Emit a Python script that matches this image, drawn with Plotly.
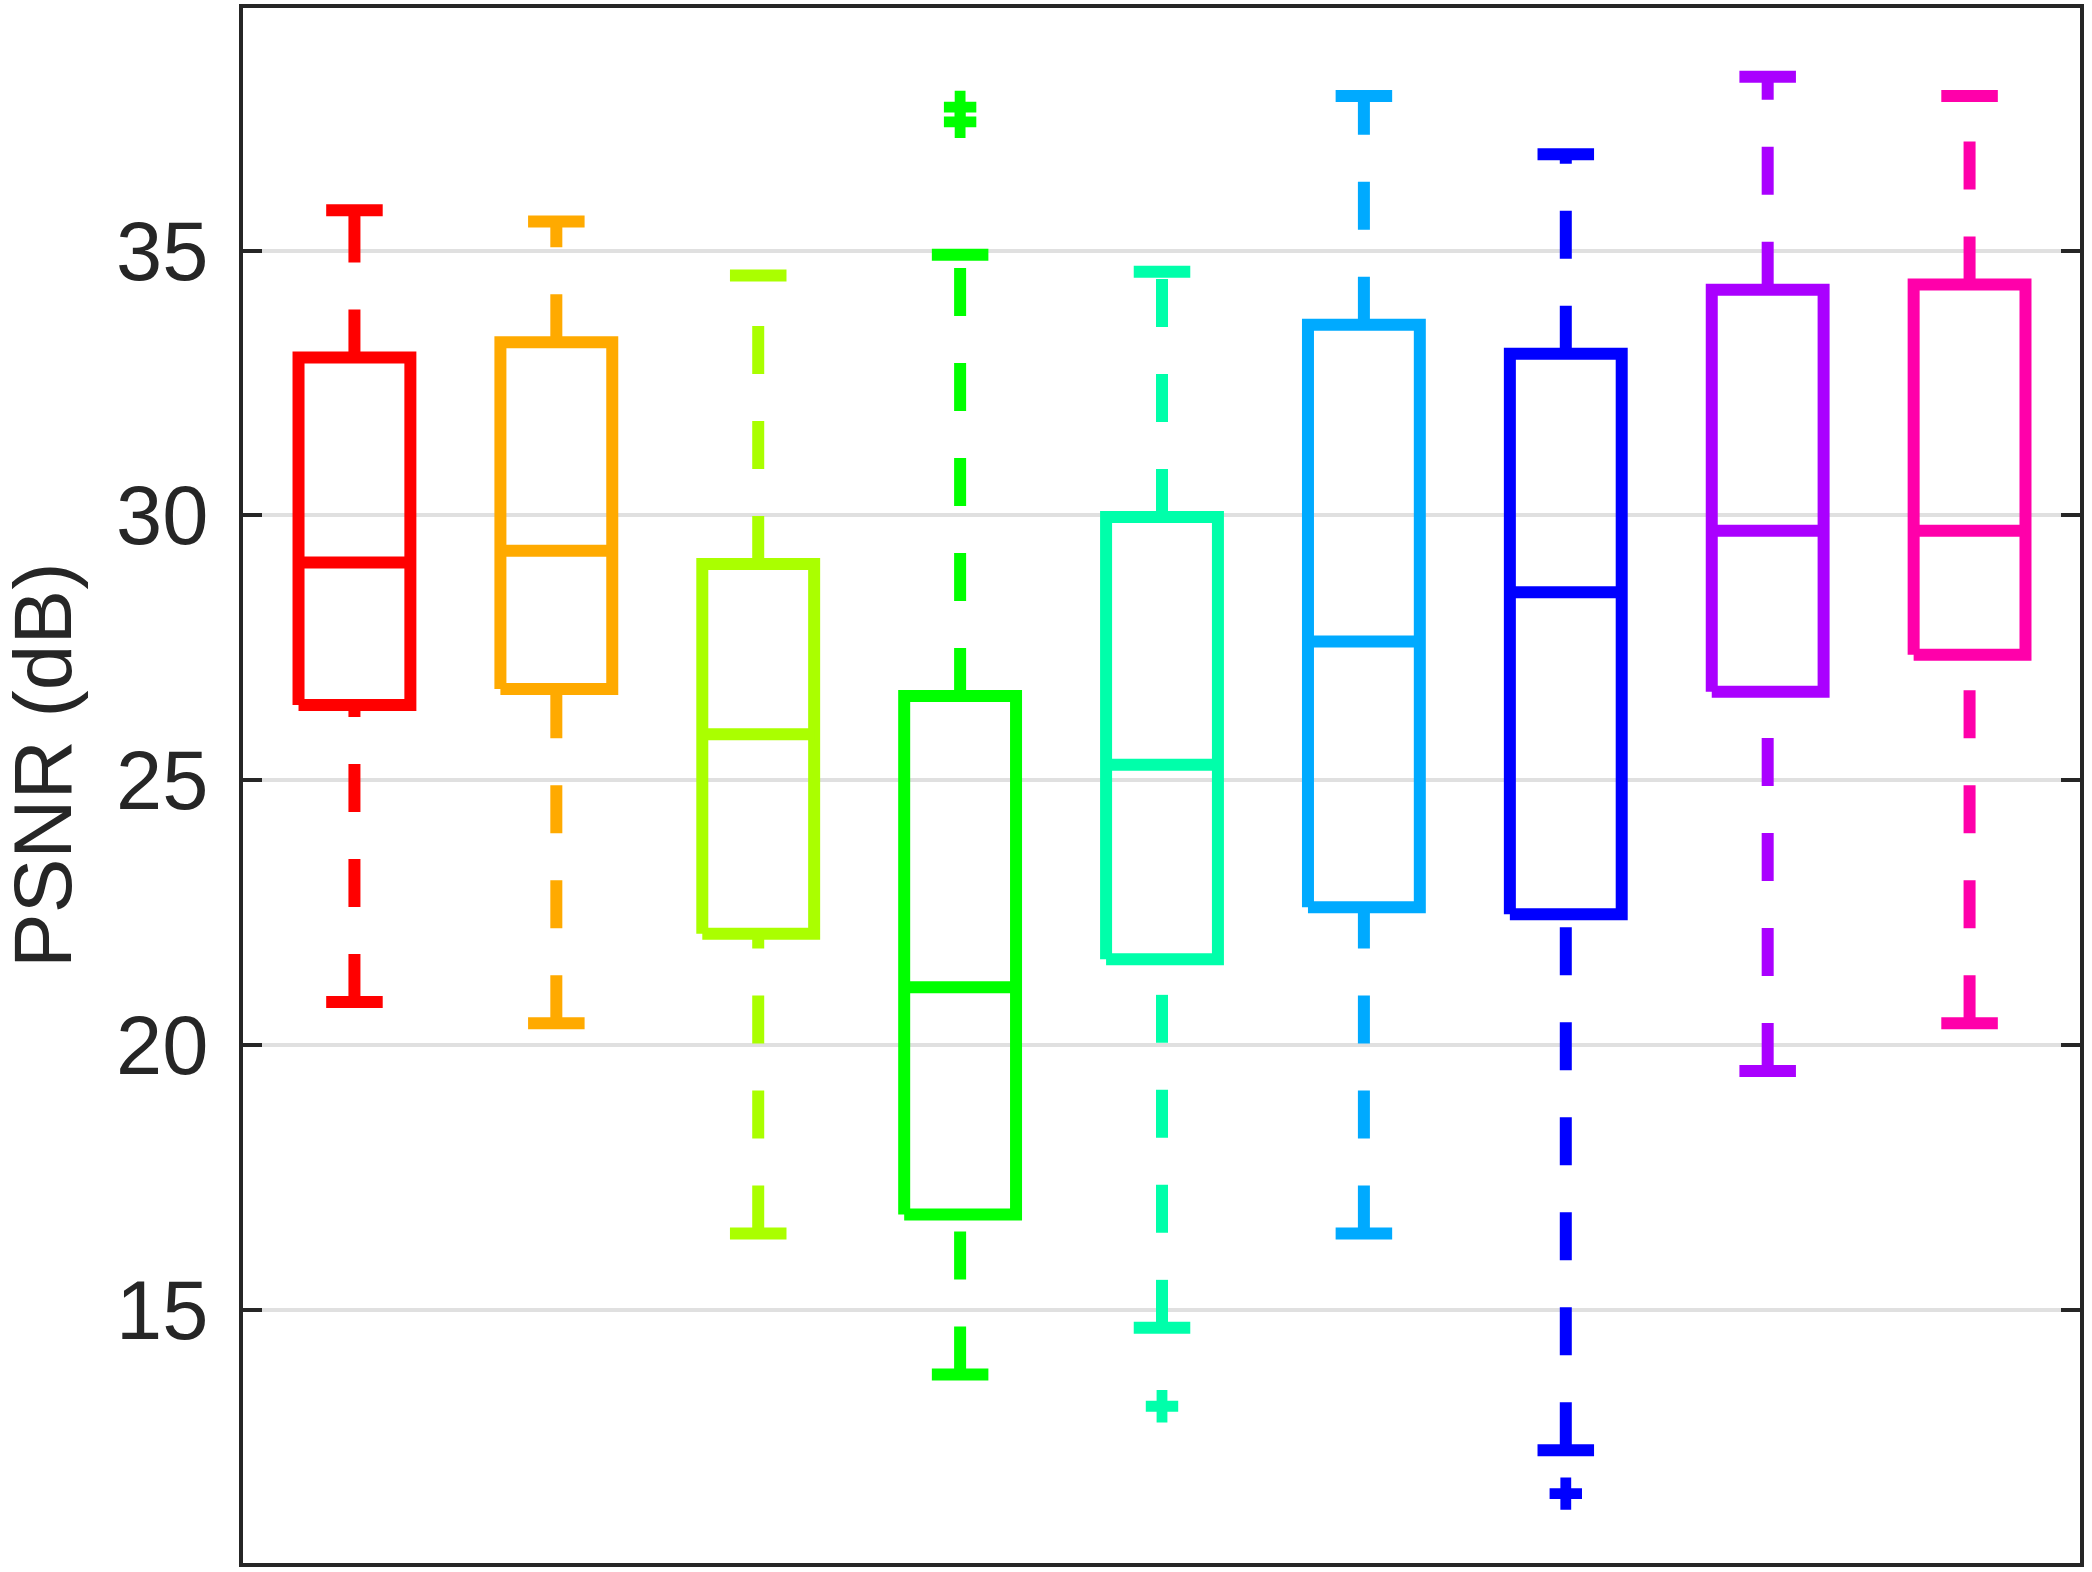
import plotly.graph_objects as go

# box statistics (PSNR in dB)
groups = [1, 2, 3, 4, 5, 6, 7, 8, 9]
upper_whisker = [35.76, 35.55, 34.53, 34.92, 34.60, 37.92, 36.82, 38.28, 37.92]
q3 = [32.98, 33.27, 29.08, 26.59, 29.97, 33.60, 33.05, 34.26, 34.36]
median = [29.11, 29.33, 25.87, 21.09, 25.29, 27.62, 28.55, 29.71, 29.71]
q1 = [26.42, 26.72, 22.10, 16.80, 21.62, 22.60, 22.47, 26.67, 27.37]
lower_whisker = [20.81, 20.41, 16.44, 13.78, 14.66, 16.44, 12.35, 19.51, 20.41]
outliers = [[], [], [], [37.71, 37.43], [13.18], [], [11.53], [], []]

colors = ["#FF0000", "#FFAA00", "#AAFF00", "#00FF00", "#00FFAA",
          "#00AAFF", "#0000FF", "#AA00FF", "#FF00AA"]

BOX_HALF = 0.277
CAP_HALF = 0.14
LW = 12
AXIS_COLOR = "#262626"
FONT = "Liberation Sans, Arial"
DASH = "48px,47px"

fig = go.Figure()

for i, g in enumerate(groups):
    c = colors[i]
    # upper whisker runs box -> cap, lower whisker runs cap -> box (dash phase as in the reference)
    fig.add_trace(go.Scatter(x=[g, g], y=[q3[i], upper_whisker[i]], mode="lines",
                             line=dict(color=c, width=LW, dash=DASH)))
    fig.add_trace(go.Scatter(x=[g, g], y=[lower_whisker[i], q1[i]], mode="lines",
                             line=dict(color=c, width=LW, dash=DASH)))
    # caps
    for v in (upper_whisker[i], lower_whisker[i]):
        fig.add_trace(go.Scatter(x=[g - CAP_HALF, g + CAP_HALF], y=[v, v], mode="lines",
                                 line=dict(color=c, width=LW)))
    # box
    fig.add_trace(go.Scatter(x=[g - BOX_HALF, g + BOX_HALF, g + BOX_HALF, g - BOX_HALF, g - BOX_HALF],
                             y=[q1[i], q1[i], q3[i], q3[i], q1[i]], mode="lines",
                             line=dict(color=c, width=LW)))
    # median
    fig.add_trace(go.Scatter(x=[g - BOX_HALF, g + BOX_HALF], y=[median[i], median[i]], mode="lines",
                             line=dict(color=c, width=LW)))
    # outliers
    if outliers[i]:
        fig.add_trace(go.Scatter(x=[g] * len(outliers[i]), y=outliers[i], mode="markers",
                                 marker=dict(symbol="cross", size=27, color=c)))

fig.add_annotation(text="PSNR (dB)", textangle=-90, showarrow=False,
                   xref="paper", yref="paper", x=-0.109, y=0.513,
                   xanchor="center", yanchor="middle",
                   font=dict(family=FONT, size=82, color=AXIS_COLOR))

fig.update_layout(
    width=2092, height=1572,
    margin=dict(l=243, r=12, t=4, b=9),
    paper_bgcolor="white", plot_bgcolor="white",
    showlegend=False,
    font=dict(family=FONT, color=AXIS_COLOR),
)
fig.update_xaxes(range=[0.448, 9.547], showgrid=False, zeroline=False,
                 showline=True, linecolor=AXIS_COLOR, linewidth=4, mirror=True,
                 ticks="", showticklabels=False)
fig.update_yaxes(range=[10.22, 39.58], tickvals=[15, 20, 25, 30, 35],
                 showgrid=True, gridcolor="#E0E0E0", gridwidth=4, zeroline=False,
                 showline=True, linecolor=AXIS_COLOR, linewidth=4, mirror="ticks",
                 ticks="inside", ticklen=19, tickwidth=4, tickcolor=AXIS_COLOR,
                 tickfont=dict(size=83, color=AXIS_COLOR), ticklabelstandoff=14,
                 automargin=False)

fig.write_html("out.html", config={"displayModeBar": False},
               post_script="document.body.style.margin='0px';")
